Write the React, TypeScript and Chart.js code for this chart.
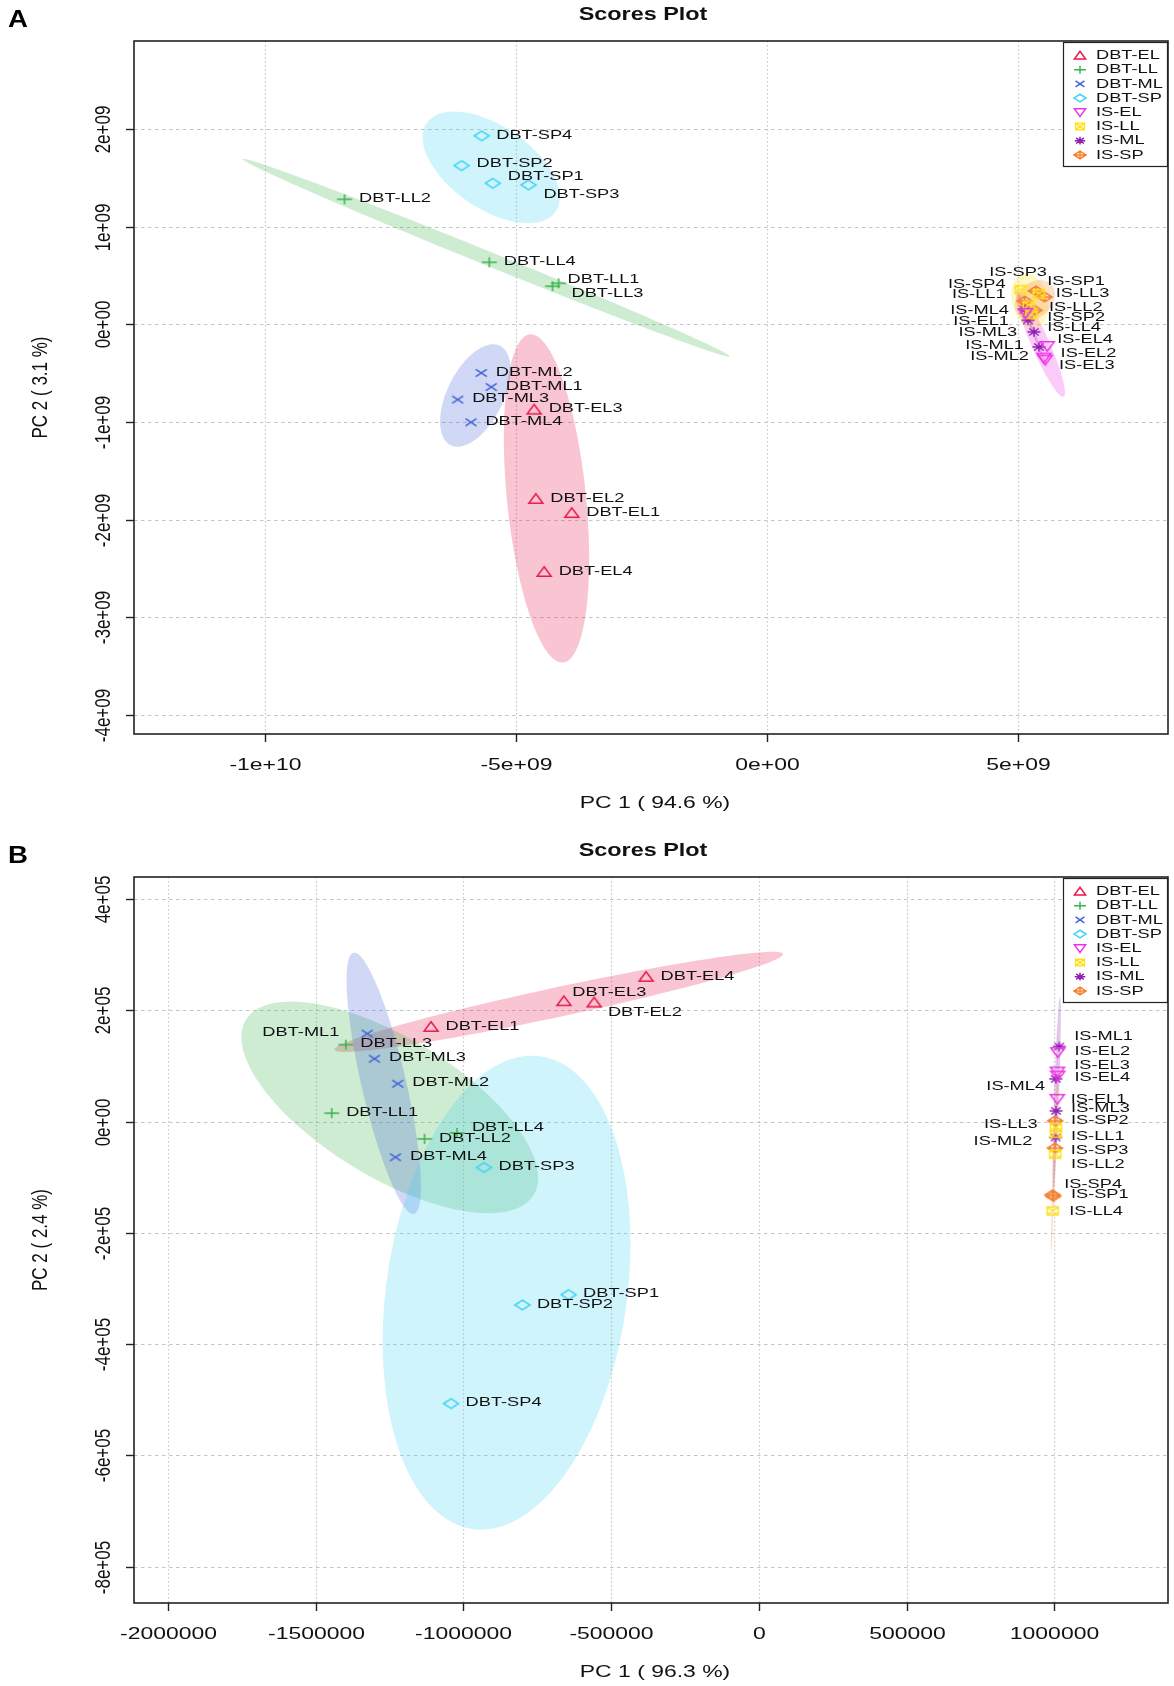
import React, { useEffect, useRef } from "react";
import { Chart, registerables } from "chart.js";
Chart.register(...registerables);

// ---------- groups ----------
const GROUPS = ["DBT-EL", "DBT-LL", "DBT-ML", "DBT-SP", "IS-EL", "IS-LL", "IS-ML", "IS-SP"];
const COLORS = ["#E6194B", "#3CB44B", "#4363D8", "#42D4F4", "#F032E6", "#FFE119", "#911EB4", "#F58231"];
const MARKERS = ["tri", "plus", "cross", "diamond", "triDown", "squareX", "asterisk", "diamondPlus"];
const SAMPLE_NO = [1, 2, 3, 4];

// ---------- Panel A (PC1 94.6 %, PC2 3.1 %) : samples 1..4 ----------
const A_PC1_DBT_EL = [-3.887e9, -4.603e9, -4.636e9, -4.437e9];
const A_PC2_DBT_EL = [-1.932e9, -1.788e9, -0.874e9, -2.536e9];
const A_PC1_DBT_LL = [-4.15e9, -8.41e9, -4.27e9, -5.53e9];
const A_PC2_DBT_LL = [0.42e9, 1.28e9, 0.39e9, 0.635e9];
const A_PC1_DBT_ML = [-5.49e9, -5.689e9, -6.159e9, -5.894e9];
const A_PC2_DBT_ML = [-0.642e9, -0.498e9, -0.771e9, -1.003e9];
const A_PC1_DBT_SP = [-5.46e9, -6.08e9, -4.75e9, -5.68e9];
const A_PC2_DBT_SP = [1.444e9, 1.625e9, 1.427e9, 1.93e9];
const A_PC1_IS_EL = [5.146e9, 5.51e9, 5.536e9, 5.576e9];
const A_PC2_IS_EL = [0.116e9, -0.341e9, -0.362e9, -0.222e9];
const A_PC1_IS_LL = [5.046e9, 5.212e9, 5.411e9, 5.258e9];
const A_PC2_IS_LL = [0.355e9, 0.195e9, 0.314e9, 0.102e9];
const A_PC1_IS_ML = [5.311e9, 5.411e9, 5.192e9, 5.126e9];
const A_PC2_IS_ML = [-0.078e9, -0.232e9, 0.041e9, 0.15e9];
const A_PC1_IS_SP = [5.523e9, 5.325e9, 5.351e9, 5.126e9];
const A_PC2_IS_SP = [0.28e9, 0.143e9, 0.341e9, 0.239e9];

const A_X_TICKS = [-1e10, -5e9, 0, 5e9];
const A_X_TICK_LABELS = ["-1e+10", "-5e+09", "0e+00", "5e+09"];
const A_Y_TICKS = [2e9, 1e9, 0, -1e9, -2e9, -3e9, -4e9];
const A_Y_TICK_LABELS = ["2e+09", "1e+09", "0e+00", "-1e+09", "-2e+09", "-3e+09", "-4e+09"];

// ---------- Panel B (PC1 96.3 %, PC2 2.4 %) ----------
const B_PC1_DBT_EL = [-1109500, -557400, -659600, -381600];
const B_PC2_DBT_EL = [170000, 213800, 216200, 260000];
const B_PC1_DBT_LL = [-1445700, -1131500, -1397900, -1021600];
const B_PC2_DBT_LL = [15000, -31200, 138100, -20400];
const B_PC1_DBT_ML = [-1325400, -1222000, -1300900, -1229800];
const B_PC2_DBT_ML = [158000, 67900, 112900, -64300];
const B_PC1_DBT_SP = [-643800, -800000, -930000, -1041600];
const B_PC2_DBT_SP = [-311100, -329700, -82600, -506900];
const B_PC1_IS_EL = [1010500, 1012000, 1011000, 1011800];
const B_PC2_IS_EL = [40700, 124600, 89800, 82600];
const B_PC1_IS_LL = [1005600, 1003400, 1006000, 994400];
const B_PC2_IS_LL = [-21000, -58700, -10800, -160500];
const B_PC1_IS_ML = [1016900, 1004800, 1006200, 1005200];
const B_PC2_IS_ML = [134800, -28700, 19200, 76700];
const B_PC1_IS_SP = [996600, 1003400, 1002600, 994400];
const B_PC2_IS_SP = [-134200, 1200, -47900, -131800];

const B_X_TICKS = [-2000000, -1500000, -1000000, -500000, 0, 500000, 1000000];
const B_X_TICK_LABELS = ["-2000000", "-1500000", "-1000000", "-500000", "0", "500000", "1000000"];
const B_Y_TICKS = [4e5, 2e5, 0, -2e5, -4e5, -6e5, -8e5];
const B_Y_TICK_LABELS = ["4e+05", "2e+05", "0e+00", "-2e+05", "-4e+05", "-6e+05", "-8e+05"];

// ---------- label placement (anchor side, dx, dy in px) ----------
type Nudge = [string, number, number];
const LABEL_NUDGE_A: Record<string, Nudge> = {
  "DBT-SP2": ["l", 15, -2], "DBT-SP1": ["l", 15, -7], "DBT-SP3": ["l", 15, 9],
  "DBT-LL1": ["l", 9, -3.5], "DBT-LL3": ["l", 19, 7.5],
  "IS-SP3": ["r", 11, -19], "IS-SP4": ["r", -19, -17], "IS-LL1": ["r", -15, 4.7],
  "IS-ML4": ["r", -15.7, 0.7], "IS-EL1": ["r", -16.7, 8], "IS-ML3": ["r", -10.7, 11.7],
  "IS-ML1": ["r", -10, 13.3], "IS-ML2": ["r", -10, 9.3], "IS-SP1": ["l", 2.7, -16],
  "IS-LL3": ["l", 16.7, -0.7], "IS-LL2": ["l", 20, 2.3], "IS-SP2": ["l", 12.7, 6.7],
  "IS-LL4": ["l", 16, 13.3], "IS-EL4": ["l", 10, -6.3], "IS-EL2": ["l", 16.7, -4],
  "IS-EL3": ["l", 13.7, 5.7],
};
const LABEL_NUDGE_B: Record<string, Nudge> = {
  "DBT-EL3": ["l", 8.4, -9.3], "DBT-EL2": ["l", 13.8, 10], "DBT-ML1": ["r", -27.9, -1.7],
  "DBT-LL4": ["l", 14.9, -5.7],
  "IS-ML1": ["l", 15, -10], "IS-EL2": ["l", 16.7, -0.7], "IS-EL3": ["l", 16.7, -6],
  "IS-EL4": ["l", 16.7, 2], "IS-ML4": ["r", -10.7, 7.7], "IS-EL1": ["l", 13.3, 0],
  "IS-ML3": ["l", 15, -2.7], "IS-SP2": ["l", 15.7, -1], "IS-LL3": ["r", -18.3, -3.3],
  "IS-LL1": ["l", 15, 3.3], "IS-ML2": ["r", -23.3, 3.3], "IS-SP3": ["l", 15.7, 1.7],
  "IS-LL2": ["l", 15.7, 10], "IS-SP4": ["l", 11.7, -10.7], "IS-SP1": ["l", 17.7, -2],
  "IS-LL4": ["l", 16.7, 0],
};

// ---------- style ----------
const FONT = '"Liberation Sans", Arial, Helvetica, sans-serif';
const SX = 1.35;
const W = 1174;

function hexA(hex: string, a: number) {
  const r = parseInt(hex.slice(1, 3), 16), g = parseInt(hex.slice(3, 5), 16), b = parseInt(hex.slice(5, 7), 16);
  return `rgba(${r},${g},${b},${a})`;
}

function drawMarker(ctx: CanvasRenderingContext2D, kind: string, color: string, s: number) {
  ctx.save();
  ctx.scale(s, s);
  ctx.strokeStyle = color;
  ctx.lineWidth = 1.5 / s;
  ctx.lineJoin = "miter";
  const line = (x1: number, y1: number, x2: number, y2: number) => {
    ctx.moveTo(x1, y1); ctx.lineTo(x2, y2);
  };
  ctx.beginPath();
  if (kind === "tri") {
    ctx.moveTo(-7, 4.3); ctx.lineTo(7, 4.3); ctx.lineTo(0, -5.2); ctx.closePath();
  } else if (kind === "triDown") {
    ctx.moveTo(-7, -4.3); ctx.lineTo(7, -4.3); ctx.lineTo(0, 5.2); ctx.closePath();
  } else if (kind === "plus") {
    line(-7.5, 0, 7.5, 0); line(0, -5, 0, 5);
  } else if (kind === "cross") {
    line(-5.5, -3.7, 5.5, 3.7); line(-5.5, 3.7, 5.5, -3.7);
  } else if (kind === "diamond") {
    ctx.moveTo(-7.5, 0); ctx.lineTo(0, -4.8); ctx.lineTo(7.5, 0); ctx.lineTo(0, 4.8); ctx.closePath();
  } else if (kind === "squareX") {
    ctx.rect(-5.5, -4, 11, 8); line(-5.5, -4, 5.5, 4); line(-5.5, 4, 5.5, -4);
  } else if (kind === "asterisk") {
    line(-6.5, 0, 6.5, 0); line(0, -4.8, 0, 4.8); line(-4.8, -3.5, 4.8, 3.5); line(-4.8, 3.5, 4.8, -3.5);
  } else if (kind === "diamondPlus") {
    ctx.moveTo(-7.5, 0); ctx.lineTo(0, -4.8); ctx.lineTo(7.5, 0); ctx.lineTo(0, 4.8); ctx.closePath();
    line(-7.5, 0, 7.5, 0); line(0, -4.8, 0, 4.8);
  }
  ctx.stroke();
  ctx.restore();
}

function markerCanvas(kind: string, color: string) {
  const c = document.createElement("canvas");
  c.width = 22; c.height = 16;
  const ctx = c.getContext("2d")!;
  ctx.translate(11, 8);
  drawMarker(ctx, kind, color, 1);
  return c;
}

function txt(ctx: CanvasRenderingContext2D, s: string, x: number, y: number, font: string,
  align: CanvasTextAlign, sx: number, rot = false, color = "#111") {
  ctx.save();
  ctx.translate(x, y);
  ctx.scale(sx, 1);
  if (rot) ctx.rotate(-Math.PI / 2);
  ctx.font = font;
  ctx.textAlign = align;
  ctx.textBaseline = "middle";
  ctx.fillStyle = color;
  ctx.fillText(s, 0, 0);
  ctx.restore();
}

// 95% confidence ellipse, as ellipse::ellipse(cov(pts), centre = colMeans(pts), level = 0.95)
function ellipsePoints(xs: number[], ys: number[], n = 100) {
  const m = xs.length;
  const mx = xs.reduce((a, b) => a + b, 0) / m;
  const my = ys.reduce((a, b) => a + b, 0) / m;
  let sxx = 0, syy = 0, sxy = 0;
  for (let i = 0; i < m; i++) {
    sxx += (xs[i] - mx) ** 2; syy += (ys[i] - my) ** 2; sxy += (xs[i] - mx) * (ys[i] - my);
  }
  sxx /= m - 1; syy /= m - 1; sxy /= m - 1;
  const sdx = Math.sqrt(sxx), sdy = Math.sqrt(syy);
  const r = Math.max(-1, Math.min(1, sxy / (sdx * sdy)));
  const t = Math.sqrt(5.991464547107979);
  const d = Math.acos(r);
  const out: [number, number][] = [];
  for (let i = 0; i <= n; i++) {
    const a = (2 * Math.PI * i) / n;
    out.push([mx + t * sdx * Math.cos(a + d / 2), my + t * sdy * Math.cos(a - d / 2)]);
  }
  return out;
}

type Panel = {
  xs: number[][]; ys: number[][];
  xMin: number; xMax: number; yMin: number; yMax: number;
  xTicks: number[]; xTickLabels: string[]; yTicks: number[]; yTickLabels: string[];
  xTitle: string; yTitle: string; letter: string; nudges: Record<string, Nudge>;
  height: number; top: number; bottom: number;
};

const PANEL_A: Panel = {
  xs: [A_PC1_DBT_EL, A_PC1_DBT_LL, A_PC1_DBT_ML, A_PC1_DBT_SP, A_PC1_IS_EL, A_PC1_IS_LL, A_PC1_IS_ML, A_PC1_IS_SP],
  ys: [A_PC2_DBT_EL, A_PC2_DBT_LL, A_PC2_DBT_ML, A_PC2_DBT_SP, A_PC2_IS_EL, A_PC2_IS_LL, A_PC2_IS_ML, A_PC2_IS_SP],
  xMin: -12.601e9, xMax: 7.98e9, yMin: -4.1947e9, yMax: 2.9006e9,
  xTicks: A_X_TICKS, xTickLabels: A_X_TICK_LABELS, yTicks: A_Y_TICKS, yTickLabels: A_Y_TICK_LABELS,
  xTitle: "PC 1 ( 94.6 %)", yTitle: "PC 2 ( 3.1 %)", letter: "A", nudges: LABEL_NUDGE_A,
  height: 836, top: 41, bottom: 734,
};
const PANEL_B: Panel = {
  xs: [B_PC1_DBT_EL, B_PC1_DBT_LL, B_PC1_DBT_ML, B_PC1_DBT_SP, B_PC1_IS_EL, B_PC1_IS_LL, B_PC1_IS_ML, B_PC1_IS_SP],
  ys: [B_PC2_DBT_EL, B_PC2_DBT_LL, B_PC2_DBT_ML, B_PC2_DBT_SP, B_PC2_IS_EL, B_PC2_IS_LL, B_PC2_IS_ML, B_PC2_IS_SP],
  xMin: -2114900, xMax: 1385100, yMin: -865200, yMax: 439400,
  xTicks: B_X_TICKS, xTickLabels: B_X_TICK_LABELS, yTicks: B_Y_TICKS, yTickLabels: B_Y_TICK_LABELS,
  xTitle: "PC 1 ( 96.3 %)", yTitle: "PC 2 ( 2.4 %)", letter: "B", nudges: LABEL_NUDGE_B,
  height: 850, top: 41, bottom: 767,
};

function rPlotPlugin(p: Panel) {
  return {
    id: "rplot" + p.letter,
    beforeDatasetsDraw(chart: any) {
      const ctx: CanvasRenderingContext2D = chart.ctx;
      const { left, right, top, bottom } = chart.chartArea;
      const xs = chart.scales.x, ys = chart.scales.y;
      ctx.save();
      ctx.beginPath(); ctx.rect(left, top, right - left, bottom - top); ctx.clip();
      // grid
      ctx.strokeStyle = "#c4c4c4"; ctx.lineWidth = 1.2;
      ctx.setLineDash([1.5, 2.5]);
      for (const v of p.xTicks) {
        const x = Math.round(xs.getPixelForValue(v)) + 0.5;
        ctx.beginPath(); ctx.moveTo(x, top); ctx.lineTo(x, bottom); ctx.stroke();
      }
      ctx.setLineDash([3.5, 3.5]);
      for (const v of p.yTicks) {
        const y = Math.round(ys.getPixelForValue(v)) + 0.5;
        ctx.beginPath(); ctx.moveTo(left, y); ctx.lineTo(right, y); ctx.stroke();
      }
      ctx.setLineDash([]);
      // ellipses
      GROUPS.forEach((g, gi) => {
        const pts = ellipsePoints(p.xs[gi], p.ys[gi]);
        ctx.beginPath();
        pts.forEach(([vx, vy], i) => {
          const px = xs.getPixelForValue(vx), py = ys.getPixelForValue(vy);
          if (i === 0) ctx.moveTo(px, py); else ctx.lineTo(px, py);
        });
        ctx.closePath();
        ctx.fillStyle = hexA(COLORS[gi], 0.25);
        ctx.fill();
      });
      ctx.restore();
    },
    afterDatasetsDraw(chart: any) {
      const ctx: CanvasRenderingContext2D = chart.ctx;
      const { left, right, top, bottom } = chart.chartArea;
      const xs = chart.scales.x, ys = chart.scales.y;
      // point labels
      GROUPS.forEach((g, gi) => {
        const meta = chart.getDatasetMeta(gi);
        SAMPLE_NO.forEach((n, i) => {
          const el = meta.data[i];
          if (!el) return;
          const name = `${g}${n}`;
          const nd = p.nudges[name] || ["l", 14.5, -1];
          txt(ctx, name, el.x + nd[1], el.y + nd[2], `13.5px ${FONT}`, nd[0] === "l" ? "left" : "right", SX);
        });
      });
      // box
      ctx.save();
      ctx.strokeStyle = "#222"; ctx.lineWidth = 1.6;
      ctx.strokeRect(left, top, right - left, bottom - top);
      // ticks
      ctx.lineWidth = 1.4;
      p.xTicks.forEach((v, i) => {
        const x = Math.round(xs.getPixelForValue(v)) + 0.5;
        ctx.beginPath(); ctx.moveTo(x, bottom); ctx.lineTo(x, bottom + 8); ctx.stroke();
        txt(ctx, p.xTickLabels[i], x, bottom + 31, `17px ${FONT}`, "center", SX);
      });
      p.yTicks.forEach((v, i) => {
        const y = Math.round(ys.getPixelForValue(v)) + 0.5;
        ctx.beginPath(); ctx.moveTo(left - 8, y); ctx.lineTo(left, y); ctx.stroke();
        txt(ctx, p.yTickLabels[i], left - 30, y, `17px ${FONT}`, "center", SX, true);
      });
      ctx.restore();
      // titles
      const cx = (left + right) / 2;
      txt(ctx, "Scores Plot", cx - 8, top - 26, `bold 18px ${FONT}`, "center", 1.3);
      txt(ctx, p.xTitle, cx + 4, bottom + 69, `17px ${FONT}`, "center", SX);
      txt(ctx, p.yTitle, 41, (top + bottom) / 2, `17px ${FONT}`, "center", SX, true);
      txt(ctx, p.letter, 8, top - 21, `bold 24px ${FONT}`, "left", 1.15, false, "#000");
      // legend
      const lx0 = 1063, lx1 = right - 1, ly0 = top + 1, ly1 = top + 125;
      ctx.save();
      ctx.fillStyle = "#fff";
      ctx.fillRect(lx0, ly0, lx1 - lx0, ly1 - ly0);
      ctx.strokeStyle = "#222"; ctx.lineWidth = 1.2;
      ctx.strokeRect(lx0 + 0.5, ly0 + 0.5, lx1 - lx0, ly1 - ly0);
      GROUPS.forEach((g, gi) => {
        const y = ly0 + 13.5 + gi * 14.2;
        ctx.save(); ctx.translate(1080, y);
        drawMarker(ctx, MARKERS[gi], COLORS[gi], 0.8);
        ctx.restore();
        txt(ctx, g, 1096, y, `13.5px ${FONT}`, "left", SX);
      });
      ctx.restore();
    },
  };
}

function PanelChart({ panel }: { panel: Panel }) {
  const ref = useRef<HTMLCanvasElement | null>(null);
  useEffect(() => {
    if (!ref.current) return;
    const datasets = GROUPS.map((g, gi) => ({
      label: g,
      data: panel.xs[gi].map((x, i) => ({ x, y: panel.ys[gi][i] })),
      pointStyle: markerCanvas(MARKERS[gi], COLORS[gi]) as any,
      pointRadius: 5,
      showLine: false,
    }));
    const chart = new Chart(ref.current, {
      type: "scatter",
      data: { datasets },
      options: {
        animation: false,
        responsive: false,
        devicePixelRatio: 1,
        events: [],
        layout: { padding: { left: 134, right: 4, top: panel.top, bottom: panel.height - panel.bottom } },
        scales: {
          x: { type: "linear", min: panel.xMin, max: panel.xMax, display: false },
          y: { type: "linear", min: panel.yMin, max: panel.yMax, display: false },
        },
        plugins: { legend: { display: false }, tooltip: { enabled: false }, title: { display: false } },
      },
      plugins: [rPlotPlugin(panel)],
    } as any);
    return () => chart.destroy();
  }, [panel]);
  return <canvas ref={ref} width={W} height={panel.height} style={{ display: "block", width: W, height: panel.height }} />;
}

export default function App() {
  return (
    <div style={{ position: "absolute", left: 0, top: 0, width: W, background: "#fff" }}>
      <PanelChart panel={PANEL_A} />
      <PanelChart panel={PANEL_B} />
    </div>
  );
}
